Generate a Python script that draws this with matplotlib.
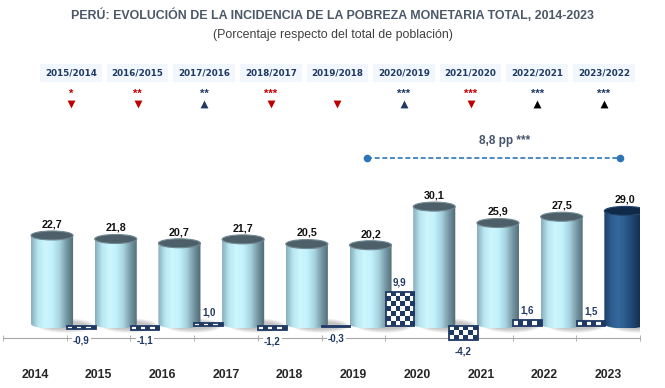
import numpy as np
import matplotlib
matplotlib.use('Agg')
import matplotlib.pyplot as plt
from matplotlib import font_manager
from matplotlib.patches import Ellipse, Polygon, Rectangle
from matplotlib.colors import LinearSegmentedColormap, ListedColormap

years = ['2014', '2015', '2016', '2017', '2018', '2019', '2020', '2021', '2022', '2023']
poverty = [22.7, 21.8, 20.7, 21.7, 20.5, 20.2, 30.1, 25.9, 27.5, 29.0]
periods = ['2015/2014', '2016/2015', '2017/2016', '2018/2017', '2019/2018',
           '2020/2019', '2021/2020', '2022/2021', '2023/2022']
signif = ['*', '**', '**', '***', '', '***', '***', '***', '***']
direction = ['v', 'v', '^', 'v', 'v', '^', 'v', '^', '^']
marker_colors = ['#c00000', '#c00000', '#1f3864', '#c00000', '#c00000',
                 '#1f3864', '#c00000', '#000000', '#000000']
star_colors = ['#c00000', '#c00000', '#1f3864', '#c00000', '#c00000',
               '#1f3864', '#c00000', '#1f3864', '#1f3864']

change = np.round(np.diff(poverty), 1)
gap = round(poverty[-1] - poverty[5], 1)

installed = {f.name for f in font_manager.fontManager.ttflist}
narrow = 'Liberation Sans Narrow' if 'Liberation Sans Narrow' in installed else 'Liberation Sans'
plt.rcParams['font.family'] = ['Liberation Sans', 'DejaVu Sans']

W, H = 665, 388
fig = plt.figure(figsize=(6.65, 3.88), dpi=100)


def fx(px):
    return px / W


def fy(py):
    return 1 - py / H


# titles
fig.text(0.5, fy(15), 'PERÚ: EVOLUCIÓN DE LA INCIDENCIA DE LA POBREZA MONETARIA TOTAL, 2014-2023',
         ha='center', va='center', fontsize=8.9, fontweight='bold', color='#4a5868', family=narrow)
fig.text(0.5, fy(35), '(Porcentaje respecto del total de población)',
         ha='center', va='center', fontsize=8.9, color='#404040', family=narrow)

# header with period changes
hx = fig.add_axes([fx(71 - 33.3), fy(118), fx(66.6 * 9), 60 / H])
hx.set_xlim(-0.5, 8.5)
hx.set_ylim(118, 58)
hx.axis('off')
for i, p in enumerate(periods):
    hx.text(i, 73, p, ha='center', va='center', fontsize=6.3, fontweight='bold',
            color='#1f3864', family='DejaVu Sans',
            bbox=dict(facecolor='#f1f7fc', edgecolor='none', pad=3.5))
    if signif[i]:
        hx.text(i, 94, signif[i], ha='center', va='center', fontsize=8,
                fontweight='bold', color=star_colors[i])
    hx.scatter(i, 104, marker=direction[i], s=32, color=marker_colors[i], lw=0)

# main chart
px_per = 3.9
px_per2 = 3.45
ax = fig.add_axes([fx(3), fy(345), fx(637), (345 - 130) / H])
ax.set_autoscale_on(False)
ax.set_xlim(-0.5, 9.5)
ax.set_ylim(-(345 - 324) / px_per, (324 - 130) / px_per)
ax2 = ax.twinx()
ax2.set_autoscale_on(False)
ax2.set_ylim(-(345 - 326) / px_per2, (326 - 130) / px_per2)

light_cmap = LinearSegmentedColormap.from_list(
    'light', ['#86adba', '#b9e7f2', '#cdf6fe', '#c2f1fb', '#a5d3df', '#7597a3', '#4f6872'])
dark_cmap = LinearSegmentedColormap.from_list(
    'dark', ['#1d4068', '#2c5c8e', '#33699d', '#2b5b8b', '#1f4673', '#143152', '#0c2240'])
grad = np.linspace(0, 1, 256).reshape(1, -1)

w = 0.66
eh = 9 / px_per
xs = np.arange(len(years)) + 0.27
t = np.linspace(np.pi, 2 * np.pi, 40)
for i, (x, v) in enumerate(zip(xs, poverty)):
    last = i == len(years) - 1
    # soft shadow
    for k in range(6):
        ax.add_patch(Ellipse((x + 0.22, -0.4), w * (1.35 - 0.08 * k), eh * (1.6 - 0.15 * k),
                             facecolor='#707070', edgecolor='none', alpha=0.08, zorder=1))
    arc = np.column_stack([x + w / 2 * np.cos(t), eh / 2 * np.sin(t)])
    pts = np.vstack([[x - w / 2, v], arc, [x + w / 2, v]])
    body = Polygon(pts, closed=True, facecolor='none', edgecolor='none', zorder=2)
    ax.add_patch(body)
    im = ax.imshow(grad, cmap=dark_cmap if last else light_cmap, aspect='auto',
                   extent=(x - w / 2, x + w / 2, -eh / 2, v), zorder=2)
    im.set_clip_path(body)
    ax.add_patch(Ellipse((x, v), w, eh, facecolor='#0f2a48' if last else '#4d5f69',
                         edgecolor='#24466e' if last else '#718993', lw=0.8, zorder=3))
    ax.annotate(f'{v:.1f}'.replace('.', ','), (x, v), xytext=(0, 8), textcoords='offset points',
                ha='center', va='center', fontsize=7.7, fontweight='bold', color='#111111')

# change bars (checkered)
checker = ListedColormap(['white', '#1f3864'])
dw = 0.45
for i, d in enumerate(change):
    x = i + 1 - 0.27
    rect = Rectangle((x - dw / 2, 0), dw, d, facecolor='none', edgecolor='#1f3864', lw=1.3, zorder=4)
    ax2.add_patch(rect)
    rows = max(1, round(abs(d) * px_per2 / 4.8))
    board = np.indices((rows, 6)).sum(axis=0) % 2
    im = ax2.imshow(board, cmap=checker, aspect='auto', interpolation='nearest',
                    extent=(x - dw / 2, x + dw / 2, min(0, d), max(0, d)), zorder=3)
    im.set_clip_path(rect)
    ax2.annotate(f'{d:.1f}'.replace('.', ','), (x, d), xytext=(0, 7 if d > 0 else -8),
                 textcoords='offset points', ha='center', va='center', fontsize=7,
                 fontweight='bold', color='#1f3864',
                 bbox=dict(facecolor='white', edgecolor='none', pad=0.8) if d < 0 else None)

# 2019 vs 2023 comparison
yline = (324 - 158) / px_per
ax.plot([xs[5] - 0.05, xs[9] - 0.08], [yline, yline], ls=(0, (3, 1.6)), color='#2e75b6', lw=1.2,
        marker='o', ms=4.5, clip_on=False, zorder=5)
ax.annotate(f'{gap:.1f} pp ***'.replace('.', ','), ((xs[5] + xs[9]) / 2 + 0.1, yline), xytext=(0, 12),
            textcoords='offset points', ha='center', va='center', fontsize=8.5,
            fontweight='bold', color='#44546a')

# axis line
for s in ['left', 'right', 'top']:
    ax.spines[s].set_visible(False)
ax.spines['bottom'].set_position(('data', -(338 - 324) / px_per))
ax.spines['bottom'].set_color('#a6a6a6')
ax.set_xticks(range(len(years)))
ax.set_xticklabels(years, fontsize=8.8, fontweight='bold', color='#262626', family=narrow)
ax.set_xticks(np.arange(-0.5, len(years)), minor=True)
ax.tick_params(axis='x', which='major', length=0, pad=22)
ax.tick_params(axis='x', which='minor', length=5, direction='inout', color='#a6a6a6')
ax.tick_params(axis='y', left=False, labelleft=False)
for s in ax2.spines.values():
    s.set_visible(False)
ax2.tick_params(axis='y', right=False, labelright=False)
ax.set_zorder(1)
ax2.set_zorder(2)
ax.patch.set_visible(False)

fig.savefig('out.png', dpi=100)
